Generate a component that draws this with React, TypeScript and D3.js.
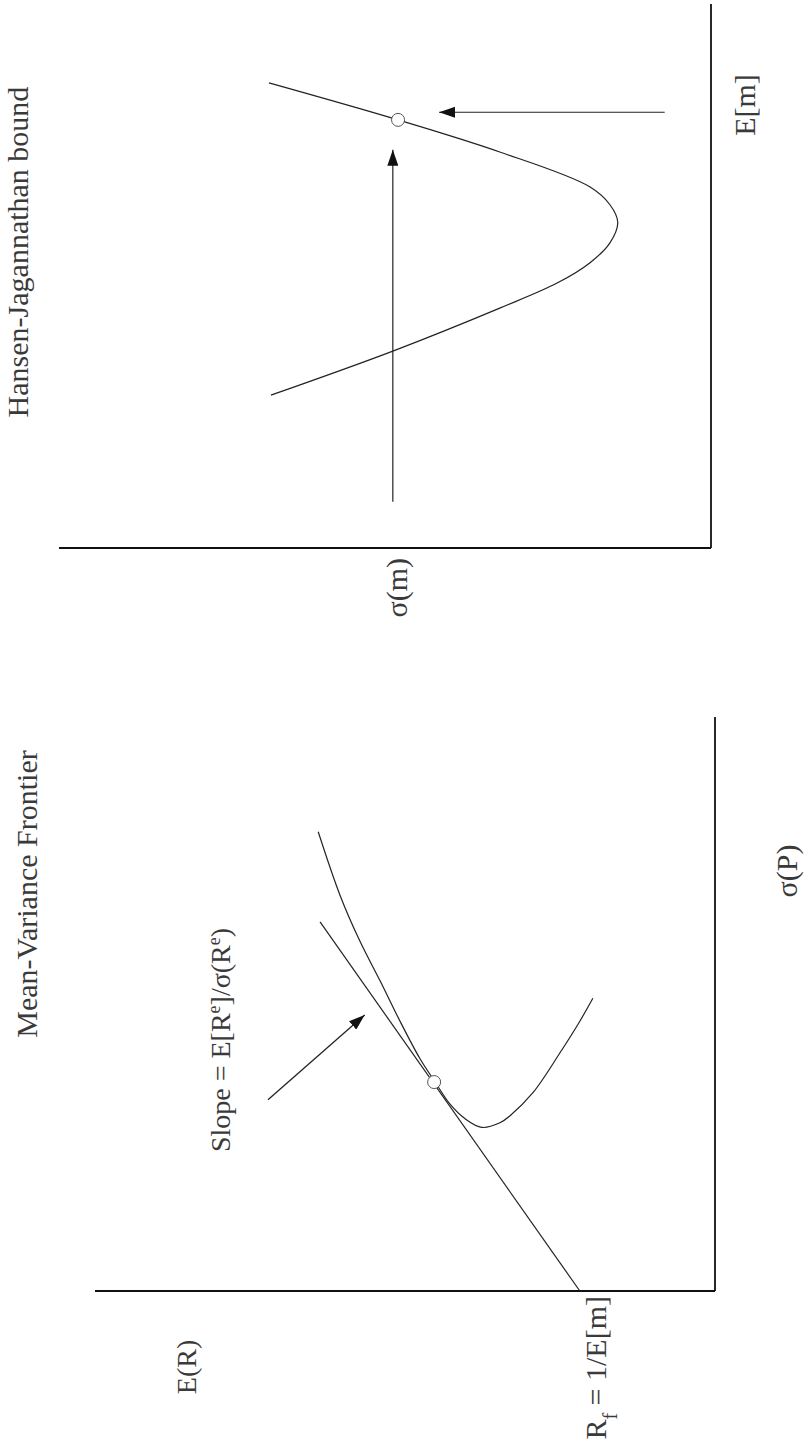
import * as d3 from 'd3';

// ---- Mean-Variance Frontier panel (values in arbitrary units 0..10) ----
const frontierSigma = [8.0, 6.9, 6.1, 5.4, 4.7, 4.05, 3.65, 3.25, 3.0, 2.85, 2.93, 3.05, 3.45, 4.15, 4.7, 5.1];
const frontierMean = [6.4, 6.05, 5.73, 5.4, 5.08, 4.76, 4.52, 4.27, 4.03, 3.76, 3.47, 3.31, 2.94, 2.5, 2.18, 1.97];
const tangentSigma = [0, 6.43];
const tangentMean = [2.18, 6.37];
const tangencyPoint = { sigma: 3.64, mean: 4.53 };
const slopeArrowSigma = [3.33, 4.81];
const slopeArrowMean = [7.21, 5.65];

// ---- Hansen-Jagannathan bound panel ----
const boundMean = [2.81, 3.62, 4.41, 4.87, 5.24, 5.61, 5.99, 6.31, 6.64, 7.28, 7.87, 8.55];
const boundSigma = [6.75, 4.88, 3.24, 2.36, 1.86, 1.55, 1.43, 1.55, 1.86, 3.24, 4.8, 6.78];
const boundPoint = { mean: 7.87, sigma: 4.8 };
const sigmaArrowMean = [0.85, 7.32];
const sigmaArrowSigma = [4.88, 4.88];
const meanArrowMean = [8.01, 8.01];
const meanArrowSigma = [0.71, 4.17];

const ink = '#222';
const textInk = '#3a3a3a';
const font = '"Liberation Serif", "DejaVu Serif", serif';

type P = [number, number];
const zip = (a: number[], b: number[]): P[] => a.map((v, i) => [v, b[i]]);

export default function App() {
  // the whole page is turned a quarter turn: we draw upright in a 1450 x 811 frame
  const mvX = d3.scaleLinear().domain([0, 10]).range([159, 733]);
  const mvY = d3.scaleLinear().domain([0, 10]).range([715, 95]);
  const hjX = d3.scaleLinear().domain([0, 10]).range([902, 1446]);
  const hjY = d3.scaleLinear().domain([0, 10]).range([711, 59]);

  const mvLine = d3.line<P>().x(d => mvX(d[0])).y(d => mvY(d[1]));
  const mvCurve = d3.line<P>().x(d => mvX(d[0])).y(d => mvY(d[1])).curve(d3.curveCatmullRom.alpha(0.5));
  const hjLine = d3.line<P>().x(d => hjX(d[0])).y(d => hjY(d[1]));
  const hjCurve = d3.line<P>().x(d => hjX(d[0])).y(d => hjY(d[1])).curve(d3.curveCatmullRom.alpha(0.5));

  const txt = { fontFamily: font, fontSize: 30, fill: textInk } as const;

  return (
    <svg width={811} height={1450} style={{ position: 'absolute', left: 0, top: 0, background: '#fff' }}>
      <style>{'body{margin:0;overflow:hidden}'}</style>
      <defs>
        <marker id="head" viewBox="0 0 16 11" refX={16} refY={5.5} markerWidth={16} markerHeight={11}
          markerUnits="userSpaceOnUse" orient="auto">
          <path d="M0,0 L16,5.5 L0,11 Z" fill="#111" />
        </marker>
      </defs>
      <g transform="translate(0,1450) rotate(-90)">
        {/* Mean-variance frontier */}
        <g>
          <line x1={mvX(0)} x2={mvX(0)} y1={mvY(0)} y2={mvY(10)} stroke="#111" strokeWidth={1.8} />
          <line x1={mvX(0)} x2={mvX(10)} y1={mvY(0)} y2={mvY(0)} stroke="#111" strokeWidth={1.8} />
          <path d={mvCurve(zip(frontierSigma, frontierMean)) || ''} fill="none" stroke={ink} strokeWidth={1.2} />
          <path d={mvLine(zip(tangentSigma, tangentMean)) || ''} fill="none" stroke={ink} strokeWidth={1.2} />
          <path d={mvLine(zip(slopeArrowSigma, slopeArrowMean)) || ''} fill="none" stroke={ink}
            strokeWidth={1.3} markerEnd="url(#head)" />
          <circle cx={mvX(tangencyPoint.sigma)} cy={mvY(tangencyPoint.mean)} r={6.5} fill="#fff" stroke="#555" />
          <text x={556} y={37} textAnchor="middle" style={txt}>Mean-Variance Frontier</text>
          <text x={410} y={230} textAnchor="middle" style={{ ...txt, fontSize: 28 }}>
            Slope = E[R<tspan baselineShift="super" fontSize={18}>e</tspan>]/σ(R<tspan baselineShift="super" fontSize={18}>e</tspan>)
          </text>
          <text x={mvX(0) - 76} y={196} textAnchor="middle" style={{ ...txt, fontSize: 28 }}>E(R)</text>
          <text x={mvX(0) - 5} y={mvY(tangentMean[0]) + 26} textAnchor="end" style={txt}>
            R<tspan baselineShift="sub" fontSize={20}>f</tspan> = 1/E[m]
          </text>
          <text x={579} y={797} textAnchor="middle" style={txt}>σ(P)</text>
        </g>

        {/* Hansen-Jagannathan bound */}
        <g>
          <line x1={hjX(0)} x2={hjX(0)} y1={hjY(0)} y2={hjY(10)} stroke="#111" strokeWidth={1.8} />
          <line x1={hjX(0)} x2={hjX(10)} y1={hjY(0)} y2={hjY(0)} stroke="#111" strokeWidth={1.8} />
          <path d={hjCurve(zip(boundMean, boundSigma)) || ''} fill="none" stroke={ink} strokeWidth={1.2} />
          <path d={hjLine(zip(sigmaArrowMean, sigmaArrowSigma)) || ''} fill="none" stroke={ink}
            strokeWidth={1.2} markerEnd="url(#head)" />
          <path d={hjLine(zip(meanArrowMean, meanArrowSigma)) || ''} fill="none" stroke={ink}
            strokeWidth={1.2} markerEnd="url(#head)" />
          <circle cx={hjX(boundPoint.mean)} cy={hjY(boundPoint.sigma)} r={6.5} fill="#fff" stroke="#555" />
          <text x={1198} y={28} textAnchor="middle" style={txt}>Hansen-Jagannathan bound</text>
          <text x={hjX(0) - 10} y={hjY(sigmaArrowSigma[0]) + 14} textAnchor="end" style={txt}>σ(m)</text>
          <text x={1345} y={755} textAnchor="middle" style={txt}>E[m]</text>
        </g>
      </g>
    </svg>
  );
}
